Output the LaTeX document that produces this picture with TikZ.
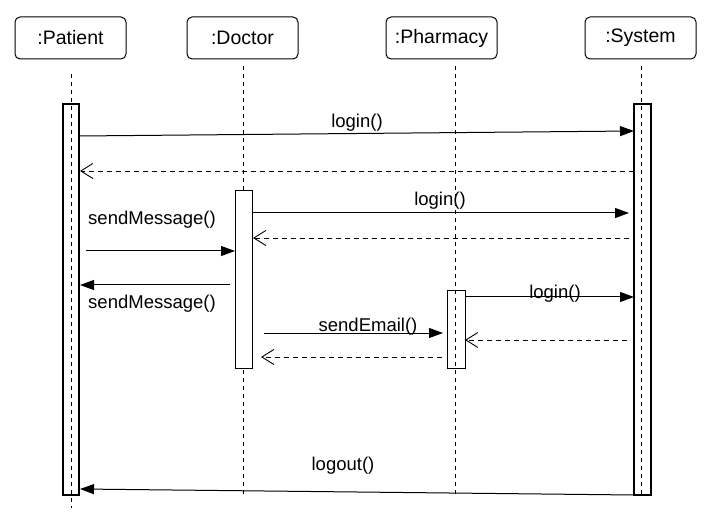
\documentclass[tikz,border=0pt]{standalone}
\usepackage{fontspec}
\setmainfont{Liberation Sans}
\usetikzlibrary{arrows.meta}
\begin{document}
\begin{tikzpicture}[x=1pt,y=-1pt,
  objbox/.style={draw, line width=1pt, rounded corners=5pt, minimum width=111pt, minimum height=42pt, font=\fontsize{19.5}{22}\selectfont, inner sep=0pt},
  lifeline/.style={line width=0.9pt, dash pattern=on 4pt off 4pt},
  actbar/.style={draw, line width=1pt, fill=white},
  msg/.style={line width=1pt, -{Triangle[length=14pt,width=10pt]}},
  ret/.style={line width=0.9pt, dash pattern=on 5pt off 4pt, -{Straight Barb[length=12pt,width=15pt]}},
  lbl/.style={font=\fontsize{18.5}{20}\selectfont, inner sep=0pt}]
\useasboundingbox (0,0) rectangle (720,521);
% header boxes
\node[objbox] (pat) at (70.5,38) {:Patient};
\node[objbox] (doc) at (242.5,38) {:Doctor};
\node[objbox] (pha) at (441.5,38) {:Pharmacy};
\node[objbox] (sys) at (640.5,38) {:System};
% activation bars (Patient, System, Pharmacy show lifeline through)
\draw[actbar, line width=1.4pt] (63,104) rectangle (79,495);
\draw[actbar, line width=1.4pt] (634,104) rectangle (651,495);
\draw[actbar] (447,291) rectangle (465,368);
% lifelines
\coordinate (patT) at (71,74); \coordinate (patB) at (71,508);
\coordinate (docT) at (243,66); \coordinate (docB) at (243,495);
\coordinate (phaT) at (455,66); \coordinate (phaB) at (455,495);
\coordinate (sysT) at (641,66); \coordinate (sysB) at (641,495);
\draw[lifeline] (patT) -- (patB);
\draw[lifeline] (docT) -- (docB);
\draw[lifeline] (phaT) -- (phaB);
\draw[lifeline] (sysT) -- (sysB);
\draw[actbar] (235,191) rectangle (252,368);
% messages
\coordinate (m1a) at (79,136); \coordinate (m1b) at (634,131);
\draw[msg] (m1a) -- (m1b);
\node[lbl] (l1) at (357,123) {login()};
\coordinate (r1a) at (634,171); \coordinate (r1b) at (80,171);
\draw[ret] (r1a) -- (r1b);
\coordinate (m2a) at (252,213); \coordinate (m2b) at (629,213);
\draw[msg] (m2a) -- (m2b);
\node[lbl] (l2) at (440,201) {login()};
\coordinate (r2a) at (629,238); \coordinate (r2b) at (253,238);
\draw[ret] (r2a) -- (r2b);
\coordinate (m3a) at (86,251); \coordinate (m3b) at (235,251);
\draw[msg] (m3a) -- (m3b);
\node[lbl] (l3) at (152,220) {sendMessage()};
\coordinate (m4a) at (230,285); \coordinate (m4b) at (80,285);
\draw[msg] (m4a) -- (m4b);
\node[lbl] (l4) at (152,304) {sendMessage()};
\coordinate (m5a) at (465,297); \coordinate (m5b) at (634,297);
\draw[msg] (m5a) -- (m5b);
\node[lbl] (l5) at (555,294) {login()};
\coordinate (r5a) at (627,340); \coordinate (r5b) at (465,340);
\draw[ret] (r5a) -- (r5b);
\coordinate (m6a) at (264,333); \coordinate (m6b) at (443,333);
\draw[msg] (m6a) -- (m6b);
\node[lbl] (l6) at (368,327) {sendEmail()};
\coordinate (r6a) at (442,357); \coordinate (r6b) at (261,357);
\draw[ret] (r6a) -- (r6b);
\coordinate (m7a) at (634,495); \coordinate (m7b) at (80,489);
\draw[msg] (m7a) -- (m7b);
\node[lbl] (l7) at (343,466) {logout()};
\end{tikzpicture}
\end{document}
